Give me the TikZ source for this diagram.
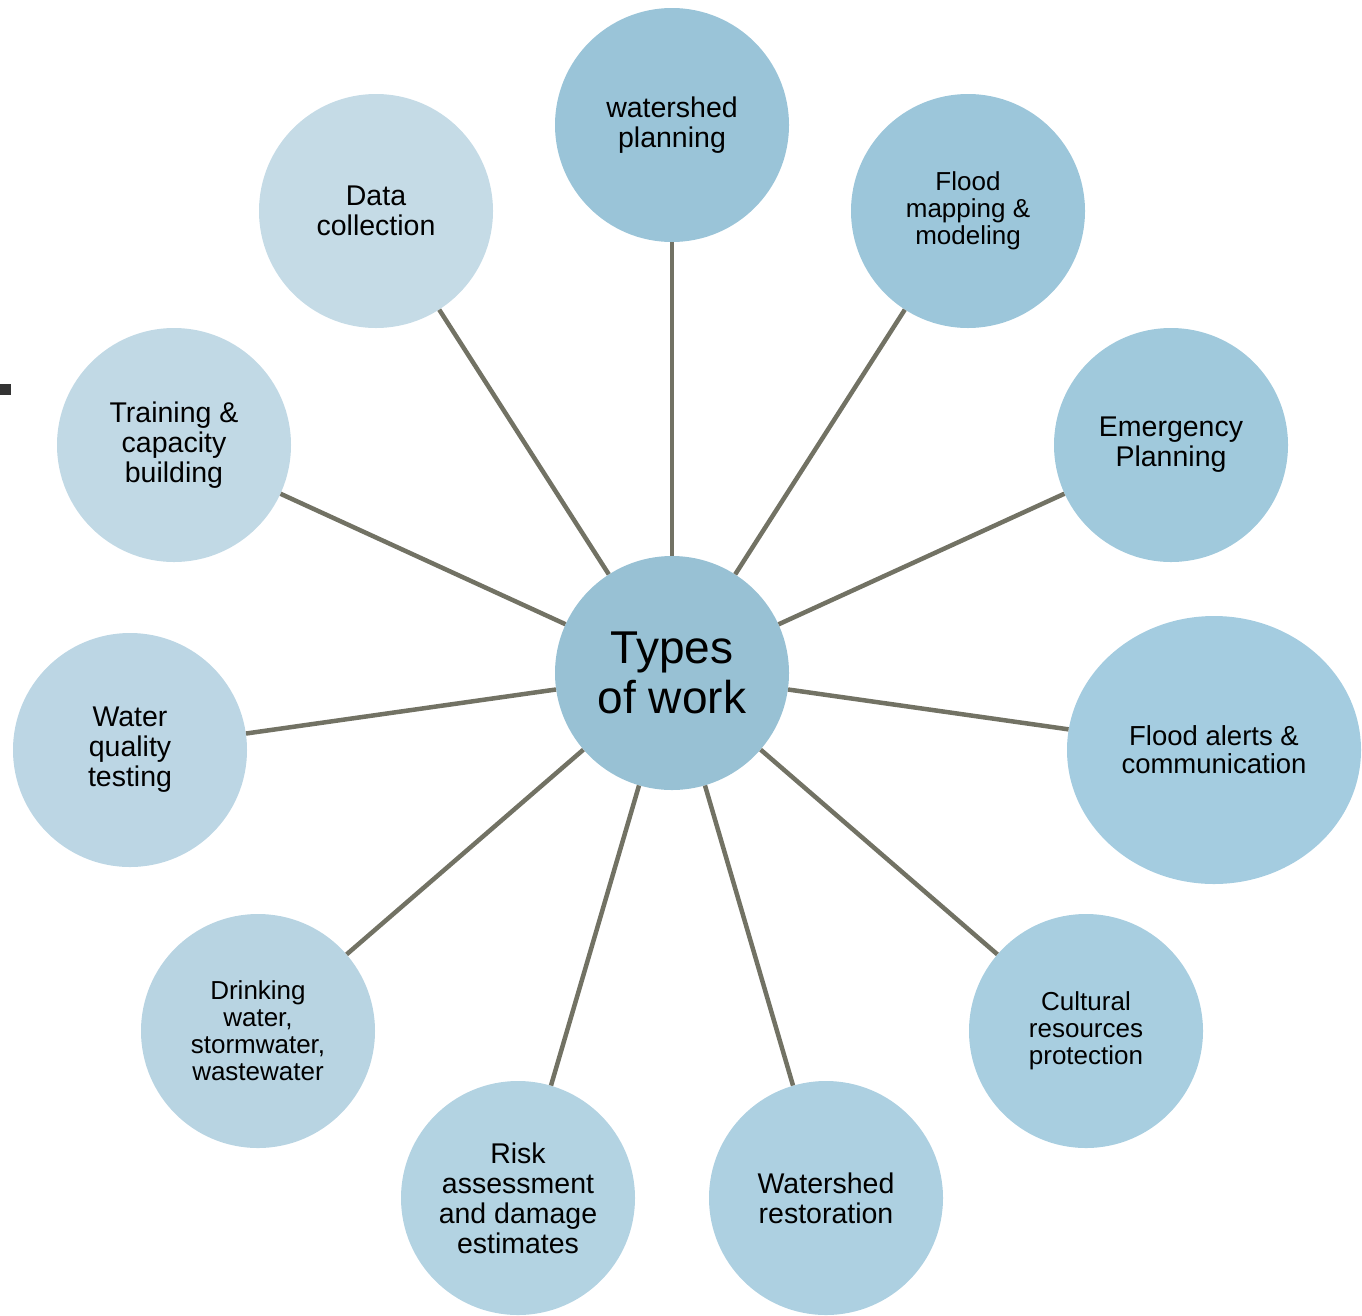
\documentclass[tikz,border=0pt]{standalone}
\usepackage{fontspec}
\setmainfont{Liberation Sans}
\usetikzlibrary{shapes.geometric}
\definecolor{cC}{HTML}{98C1D4}
\definecolor{c1}{HTML}{9AC4D8}
\definecolor{c2}{HTML}{9CC6DA}
\definecolor{c3}{HTML}{A0C9DC}
\definecolor{c4}{HTML}{A4CCE0}
\definecolor{c5}{HTML}{A8CEE0}
\definecolor{c6}{HTML}{ADD0E1}
\definecolor{c7}{HTML}{B3D3E2}
\definecolor{c8}{HTML}{B8D4E2}
\definecolor{c9}{HTML}{BCD6E4}
\definecolor{c10}{HTML}{C1D9E5}
\definecolor{c11}{HTML}{C5DBE6}
\definecolor{lineC}{RGB}{114,114,100}
\definecolor{dashC}{HTML}{333333}
\tikzset{
  bub/.style={circle, minimum size=234pt, inner sep=0pt, align=center,
    font=\fontsize{28.5}{30}\selectfont},
  bubs/.style={bub, font=\fontsize{26}{27}\selectfont},
  conn/.style={draw=lineC, line width=4.5pt},
}
\begin{document}
\begin{tikzpicture}[x=1pt,y=-1pt]
\useasboundingbox (0,0) rectangle (1362,1315);
\fill[dashC] (0,384) rectangle (11,395);
\node[bub, fill=cC, font=\fontsize{46}{50}\selectfont] (c) at (672,673) {Types\\of work};
\node[bub, fill=c1] (wp) at (672,125) {watershed\\planning};
\node[bubs, fill=c2] (fm) at (968,211) {Flood\\mapping \&\\modeling};
\node[bub, fill=c3] (ep) at (1171,445) {Emergency\\Planning};
\node[ellipse, minimum width=294pt, minimum height=268pt, inner sep=0pt, align=center,
  font=\fontsize{27.5}{28}\selectfont, fill=c4] (fa) at (1214,750) {Flood alerts \&\\communication};
\node[bubs, fill=c5] (cr) at (1086,1031) {Cultural\\resources\\protection};
\node[bub, fill=c6] (wr) at (826,1198) {Watershed\\restoration};
\node[bub, fill=c7] (ra) at (518,1198) {Risk\\assessment\\and damage\\estimates};
\node[bubs, fill=c8] (dw) at (258,1031) {Drinking\\water,\\stormwater,\\wastewater};
\node[bub, fill=c9] (wq) at (130,750) {Water\\quality\\testing};
\node[bub, fill=c10] (tc) at (174,445) {Training \&\\capacity\\building};
\node[bub, fill=c11] (dc) at (376,211) {Data\\collection};
\foreach \n in {wp,fm,ep,fa,cr,wr,ra,dw,wq,tc,dc}
  \draw[conn] (c) -- (\n);
\end{tikzpicture}
\end{document}
